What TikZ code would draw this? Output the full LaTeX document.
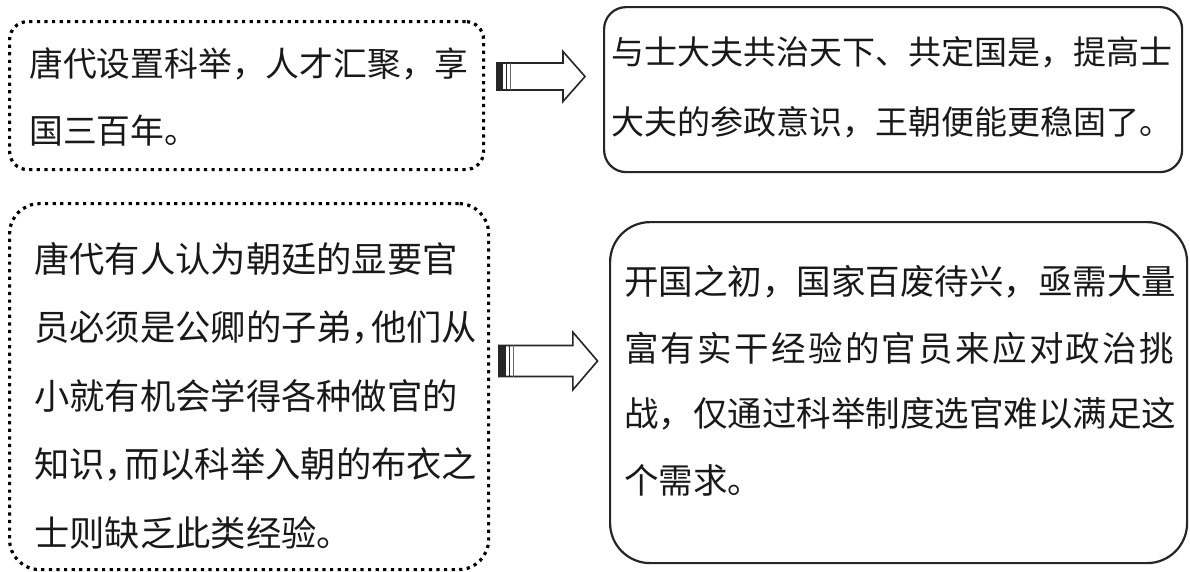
\documentclass[tikz,border=0pt]{standalone}
\usepackage{fontspec}
\newfontfamily\cjk{Noto Sans CJK SC}
\begin{document}
\begin{tikzpicture}[x=1pt,y=-1pt,
  dotbox/.style={draw=black, line width=3.2pt, dash pattern=on 3.2pt off 4.4pt, rounded corners=#1, anchor=north west, inner sep=0pt, fill=none},
  solidbox/.style={draw=black!85, line width=2.2pt, rounded corners=#1, anchor=north west, inner sep=0pt},
  txt/.style={anchor=west, inner sep=0pt, font=\cjk\fontsize{#1}{#1}\selectfont, text=black!90},
  blockarrow/.pic={
    \filldraw[fill=white, draw=black!85, line width=1.6pt, line join=miter]
      (0,-13.5) -- (66,-13.5) -- (66,-25) -- (88,0) -- (66,25) -- (66,13.5) -- (0,13.5) -- cycle;
    \fill[black!85] (0,-13.5) rectangle (6,13.5);
    \draw[black!85, line width=1.3pt] (9.5,-13.5) -- (9.5,13.5);
    \draw[black!60, line width=0.7pt] (13,-13.5) -- (13,13.5);
  }]
\useasboundingbox (0,0) rectangle (1190,571);
\fill[white] (0,0) rectangle (1190,571);

% boxes
\node[dotbox=18pt, minimum width=474pt, minimum height=148pt] (b1) at (8,20) {};
\node[solidbox=22pt, minimum width=578pt, minimum height=165pt] (b2) at (603,6) {};
\node[dotbox=30pt, minimum width=479pt, minimum height=366pt] (b3) at (8,202) {};
\node[solidbox=40pt, minimum width=577pt, minimum height=341pt] (b4) at (609,221) {};

% arrows
\path (497,76.5) coordinate (a1);
\path (499,361) coordinate (a2);
\pic (ar1) at (a1) {blockarrow};
\pic[xscale=1.12, yscale=1.15] (ar2) at (a2) {blockarrow};

% texts
\foreach \s [count=\i] in {唐代设置科举，人才汇聚，享, 国三百年。}
  \node[txt=33.8] (t1-\i) at (29,{64+67*(\i-1)}) {\s};
\foreach \s [count=\i] in {与士大夫共治天下、共定国是，提高士, 大夫的参政意识，王朝便能更稳固了。}
  \node[txt=33] (t2-\i) at (611,{52+70*(\i-1)}) {\s};
\foreach \s [count=\i] in {唐代有人认为朝廷的显要官, 员必须是公卿的子弟，\hspace{-0.45em}他们从, 小就有机会学得各种做官的, 知识，\hspace{-0.45em}而以科举入朝的布衣之, 士则缺乏此类经验。}
  \node[txt=35.3] (t3-\i) at (34,{259+68.5*(\i-1)}) {\s};
\foreach \s [count=\i] in {开国之初，国家百废待兴，亟需大量, {\addfontfeatures{LetterSpace=6.7}富有实干经验的官员来应对政治挑}, 战，仅通过科举制度选官难以满足这, 个需求。}
  \node[txt=34.5] (t4-\i) at (624,{282+66*(\i-1)}) {\s};
\end{tikzpicture}
\end{document}
